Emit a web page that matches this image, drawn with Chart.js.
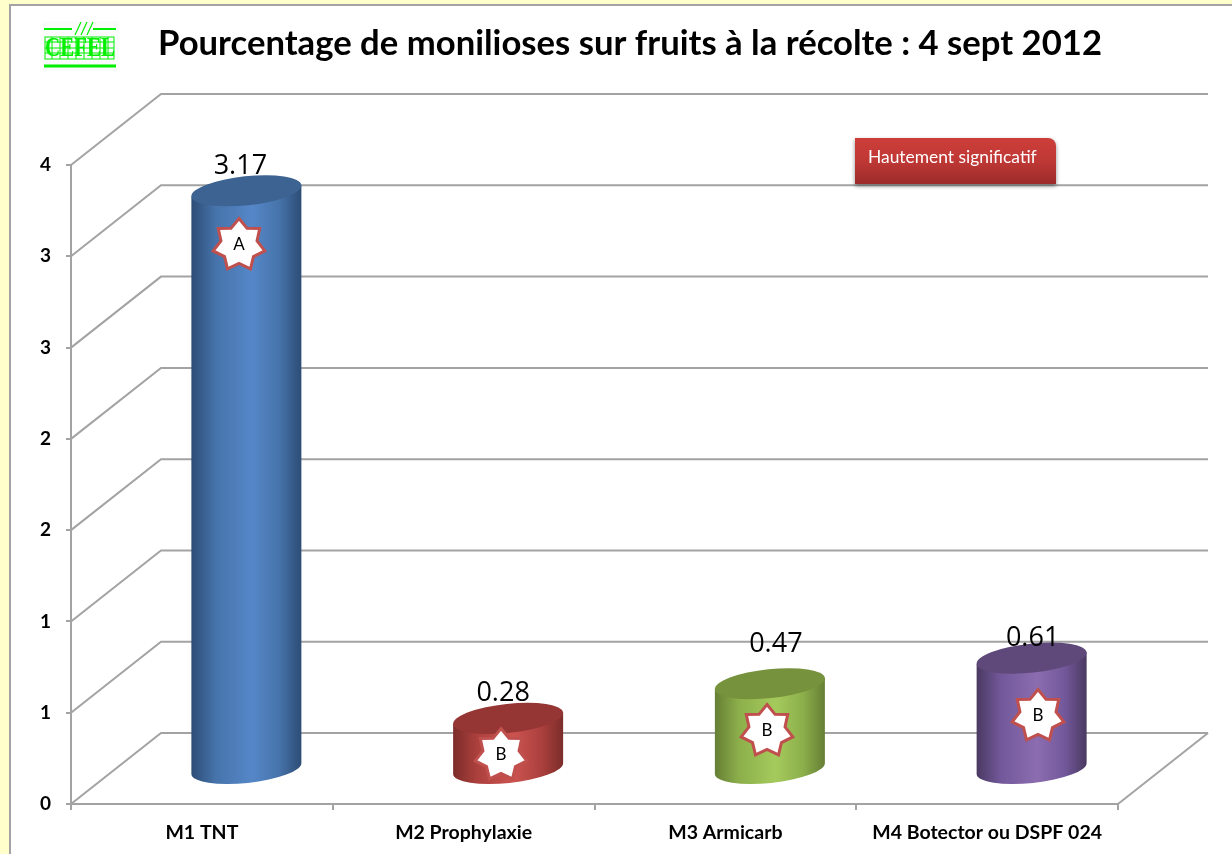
<!DOCTYPE html>
<html lang="fr"><head><meta charset="utf-8">
<style>
html,body{margin:0;padding:0;background:#FFFFCC;overflow:hidden}
#panel{position:absolute;left:9px;top:4px;right:-4px;bottom:-4px;background:#fff;border:2px solid #A3A3A3;box-sizing:border-box}
canvas{position:absolute;left:0;top:0}
</style>
<script src="https://cdn.jsdelivr.net/npm/chart.js@4/dist/chart.umd.min.js"></script>
</head><body>
<div id="panel"></div>
<canvas id="c" width="1232" height="854"></canvas>
<script>
const categories = ['M1 TNT', 'M2 Prophylaxie', 'M3 Armicarb', 'M4 Botector ou DSPF 024'];
const seriesValues = [3.17, 0.28, 0.47, 0.61];
const valueLabels = ['3.17', '0.28', '0.47', '0.61'];
const groupLetters = ['A', 'B', 'B', 'B'];
const yTickLabels = ['0', '1', '1', '2', '2', '3', '3', '4'];
const titleText = 'Pourcentage de monilioses sur fruits à la récolte : 4 sept 2012';
const badgeText = 'Hautement significatif';
const logoText = 'CEFEL';

const DEPTH_X = 90, DEPTH_Y = -71, GRID = '#A3A3A3';
const BAR_DX = 44.5, BAR_DY = -34.5, TILT = -6 * Math.PI / 180, RX = 55.3, RY = 14.5;
const palette = [
  {edge:'#2C4C74', mid:'#4673AA', light:'#5587C8', top:'#3C6391'},
  {edge:'#7B2C2A', mid:'#AC403D', light:'#CB5350', top:'#953634'},
  {edge:'#657E34', mid:'#8CAF4B', light:'#A5CA5C', top:'#76923C'},
  {edge:'#4A3961', mid:'#72589A', light:'#8B6DB0', top:'#5F497A'}
];
const labelShift = [[-6,-24],[-5,-25],[6,-39],[1,-20]];
const starSpots = [[239,245],[501,755],[767,731],[1038,716]];

function walls(chart){
  const {ctx, chartArea:a, scales:{y}} = chart;
  ctx.save();
  ctx.strokeStyle = GRID; ctx.lineWidth = 2;
  y.ticks.forEach(t => {
    const p = y.getPixelForValue(t.value);
    ctx.beginPath();
    ctx.moveTo(a.left, p);
    ctx.lineTo(a.left + DEPTH_X, p + DEPTH_Y);
    ctx.lineTo(a.right + DEPTH_X, p + DEPTH_Y);
    ctx.stroke();
  });
  ctx.beginPath();
  ctx.moveTo(a.right, a.bottom);
  ctx.lineTo(a.right + DEPTH_X, a.bottom + DEPTH_Y);
  ctx.stroke();
  ctx.restore();
}

function cylinder(ctx, x, top, base, c){
  const dx = RX * Math.cos(TILT), dy = RX * Math.sin(TILT);
  const g = ctx.createLinearGradient(x - RX, 0, x + RX, 0);
  g.addColorStop(0, c.edge); g.addColorStop(.22, c.mid); g.addColorStop(.55, c.light);
  g.addColorStop(.8, c.mid); g.addColorStop(1, c.edge);
  ctx.fillStyle = g;
  ctx.beginPath();
  ctx.moveTo(x - dx, top - dy);
  ctx.lineTo(x - dx, base - dy);
  ctx.ellipse(x, base, RX, RY, TILT, Math.PI, 0, true);
  ctx.lineTo(x + dx, top + dy);
  ctx.closePath();
  ctx.fill();
  ctx.fillStyle = c.top;
  ctx.beginPath();
  ctx.ellipse(x, top, RX, RY, TILT, 0, 2 * Math.PI);
  ctx.fill();
}

function star(ctx, x, y, letter){
  const R = 26.5, r = 18.5, n = 7;
  ctx.save();
  ctx.beginPath();
  for (let i = 0; i < 2 * n; i++){
    const rad = i % 2 ? r : R, t = -Math.PI / 2 + i * Math.PI / n;
    ctx[i ? 'lineTo' : 'moveTo'](x + rad * Math.cos(t), y + rad * Math.sin(t));
  }
  ctx.closePath();
  ctx.fillStyle = '#fff'; ctx.fill();
  ctx.strokeStyle = '#C0504D'; ctx.lineWidth = 3; ctx.lineJoin = 'miter'; ctx.stroke();
  ctx.fillStyle = '#000'; ctx.font = '17px Lato';
  ctx.textAlign = 'center'; ctx.textBaseline = 'middle';
  ctx.fillText(letter, x, y);
  ctx.restore();
}

function logo(ctx){
  const G = '#00F000';
  ctx.save();
  ctx.fillStyle = '#FBFBFB'; ctx.fillRect(43, 21, 76, 50);
  ctx.strokeStyle = G; ctx.lineWidth = 2;
  [[44,29,72,29],[93,29,116,29]].forEach(l => {
    ctx.beginPath(); ctx.moveTo(l[0],l[1]); ctx.lineTo(l[2],l[3]); ctx.stroke();
  });
  ctx.lineWidth = 3;
  ctx.beginPath(); ctx.moveTo(44,66); ctx.lineTo(116,66); ctx.stroke();
  ctx.lineWidth = 1.2;
  [0,6,12].forEach(o => {
    ctx.beginPath(); ctx.moveTo(75+o,35); ctx.lineTo(81+o,22); ctx.stroke();
  });
  ctx.lineWidth = 1;
  ctx.strokeRect(45, 37, 69, 22);
  [42,48,53].forEach(y => { ctx.beginPath(); ctx.moveTo(45,y); ctx.lineTo(114,y); ctx.stroke(); });
  [52,60,68,76,84,92,100,108].forEach(x => { ctx.beginPath(); ctx.moveTo(x,37); ctx.lineTo(x,59); ctx.stroke(); });
  ctx.fillStyle = G; ctx.font = 'bold 27px "Liberation Serif"';
  ctx.textAlign = 'center'; ctx.textBaseline = 'middle';
  ctx.fillText(logoText, 80, 49, 70);
  ctx.restore();
}

function badge(ctx){
  const x = 855, y = 138, w = 201, h = 46;
  ctx.save();
  ctx.shadowColor = 'rgba(0,0,0,.45)'; ctx.shadowBlur = 4; ctx.shadowOffsetY = 2;
  const g = ctx.createLinearGradient(0, y, 0, y + h);
  g.addColorStop(0, '#CD3E39'); g.addColorStop(.5, '#BF3835'); g.addColorStop(1, '#9B2B2A');
  ctx.fillStyle = g;
  ctx.beginPath();
  ctx.roundRect(x, y, w, h, [0, 8, 0, 0]);
  ctx.fill();
  ctx.shadowColor = 'transparent';
  ctx.fillStyle = '#fff'; ctx.font = '17.4px Lato';
  ctx.textAlign = 'left'; ctx.textBaseline = 'middle';
  ctx.fillText(badgeText, 868, 157, 170);
  ctx.restore();
}

const scene = {
  id: 'scene',
  afterLayout(chart){
    const tb = chart.titleBlock;
    tb.left = 158; tb.right = 1102;
  },
  beforeDatasetsDraw(chart){ walls(chart); },
  beforeDatasetDraw(chart, args){
    const ctx = chart.ctx;
    args.meta.data.forEach((bar, i) => {
      const p = bar.getProps(['x','y','base'], true);
      cylinder(ctx, p.x + BAR_DX, p.y + BAR_DY, p.base + BAR_DY, palette[i]);
    });
    return false;
  },
  afterDatasetsDraw(chart){
    const ctx = chart.ctx, meta = chart.getDatasetMeta(0);
    ctx.save();
    ctx.fillStyle = '#000'; ctx.font = '27px "Open Sans"';
    ctx.textAlign = 'center'; ctx.textBaseline = 'middle';
    meta.data.forEach((bar, i) => {
      ctx.fillText(valueLabels[i], bar.x + BAR_DX + labelShift[i][0], bar.y + BAR_DY + labelShift[i][1]);
    });
    ctx.restore();
    groupLetters.forEach((l, i) => star(ctx, starSpots[i][0], starSpots[i][1], l));
    badge(ctx);
    logo(ctx);
  }
};

new Chart(document.getElementById('c'), {
  type: 'bar',
  data: { labels: categories, datasets: [{ data: seriesValues, barThickness: 110, backgroundColor: palette.map(p => p.light) }] },
  plugins: [scene],
  options: {
    responsive: false, animation: false,
    layout: { padding: { left: 0, right: 114, top: 0, bottom: 0 } },
    plugins: {
      legend: { display: false }, tooltip: { enabled: false },
      title: { display: true, text: titleText, color: '#000',
        font: { family: 'Lato', weight: 'bold', size: 34.7, lineHeight: 1.2 },
        padding: { top: 23, bottom: 100.4 } }
    },
    scales: {
      x: {
        grid: { drawOnChartArea: false, tickLength: 6, color: GRID, lineWidth: 2, offset: true },
        border: { color: GRID, width: 2 },
        ticks: { color: '#000', padding: 11, autoSkip: false, maxRotation: 0,
          font: { family: 'Lato', weight: 'bold', size: 19.5 } },
        afterFit(s){ s.height = 50; }
      },
      y: {
        min: 0, max: 3.5,
        grid: { drawOnChartArea: false, tickLength: 5, color: GRID, lineWidth: 2 },
        border: { color: GRID, width: 2 },
        ticks: { stepSize: 0.5, color: '#000', padding: 15,
          font: { family: 'Lato', weight: 'bold', size: 19 },
          callback(v, i){ return yTickLabels[i]; } },
        afterFit(s){ s.width = 71; }
      }
    }
  }
});
</script>
</body></html>
